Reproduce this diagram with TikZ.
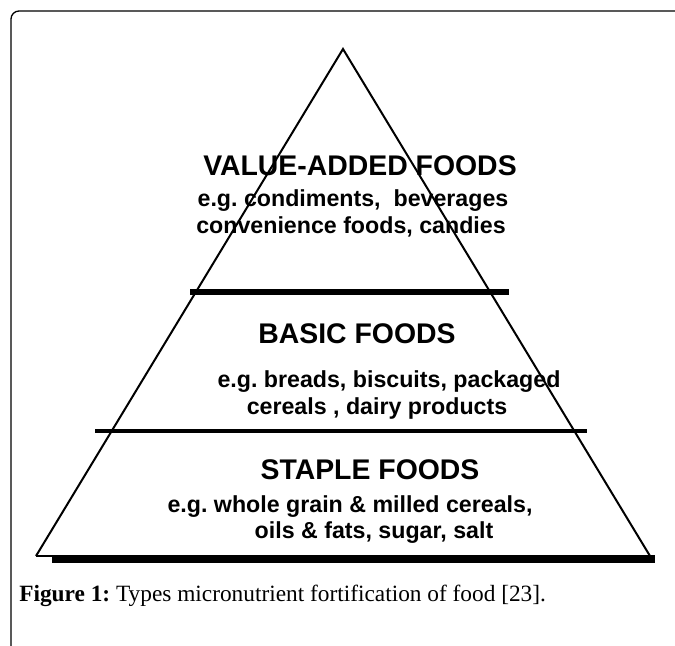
\documentclass[tikz,border=0pt]{standalone}
\usepackage{fontspec}
\setmainfont{Liberation Serif}
\newfontfamily\diagfont{Liberation Sans}
\frenchspacing
\begin{document}
\begin{tikzpicture}[x=0.75pt,y=-0.75pt,
  heading/.style={font=\diagfont\bfseries\fontsize{21.3}{24}\selectfont, inner sep=0pt},
  example/.style={font=\diagfont\bfseries\fontsize{17.4}{20}\selectfont, inner sep=0pt},
  side/.style={line width=1.5pt, line join=miter},
  tierbar/.style={line width=#1},
  caption/.style={font=\fontsize{17.5}{20}\selectfont, inner sep=0pt, anchor=base west},
  frame/.style={line width=1pt, rounded corners=6pt}]
\useasboundingbox (0,0) rectangle (675,646);

% panel frame
\coordinate (frameBL) at (11,646);
\coordinate (frameTL) at (11,11);
\coordinate (frameTR) at (675,11);
\draw[frame] (frameBL) -- (frameTL) -- (frameTR);

% pyramid outline
\coordinate (apex) at (343,49);
\coordinate (baseL) at (36,556);
\coordinate (baseR) at (650,556);
\draw[side] (baseL) -- (apex) -- (baseR);
\draw[line width=0.9pt] (baseL) -- (baseR);

% dividing bars
\coordinate (bar1L) at (190,292);
\coordinate (bar1R) at (509,292);
\coordinate (bar2L) at (95,431);
\coordinate (bar2R) at (587,431);
\coordinate (bar3L) at (52,559);
\coordinate (bar3R) at (655,559);
\draw[tierbar=4pt] (bar1L) -- (bar1R);
\draw[tierbar=2.8pt] (bar2L) -- (bar2R);
\draw[tierbar=5.8pt] (bar3L) -- (bar3R);

% top tier
\node[heading] (vaTitle) at (360,166) {VALUE-ADDED FOODS};
\node[example] (vaEx1) at (353,201) {e.g. condiments,\ \ beverages};
\node[example] (vaEx2) at (351,227) {convenience foods, candies};

% middle tier
\node[heading] (bfTitle) at (357,334) {BASIC FOODS};
\node[example] (bfEx1) at (389,382) {e.g. breads, biscuits, packaged};
\node[example] (bfEx2) at (377,408) {cereals , dairy products};

% bottom tier
\node[heading] (sfTitle) at (370,470) {STAPLE FOODS};
\node[example] (sfEx1) at (350,507) {e.g. whole grain \& milled cereals,};
\node[example] (sfEx2) at (374,533) {oils \& fats, sugar, salt};

% caption
\node[caption] (cap) at (19,601) {\textbf{Figure 1:} Types micronutrient fortification of food [23].};
\end{tikzpicture}
\end{document}
